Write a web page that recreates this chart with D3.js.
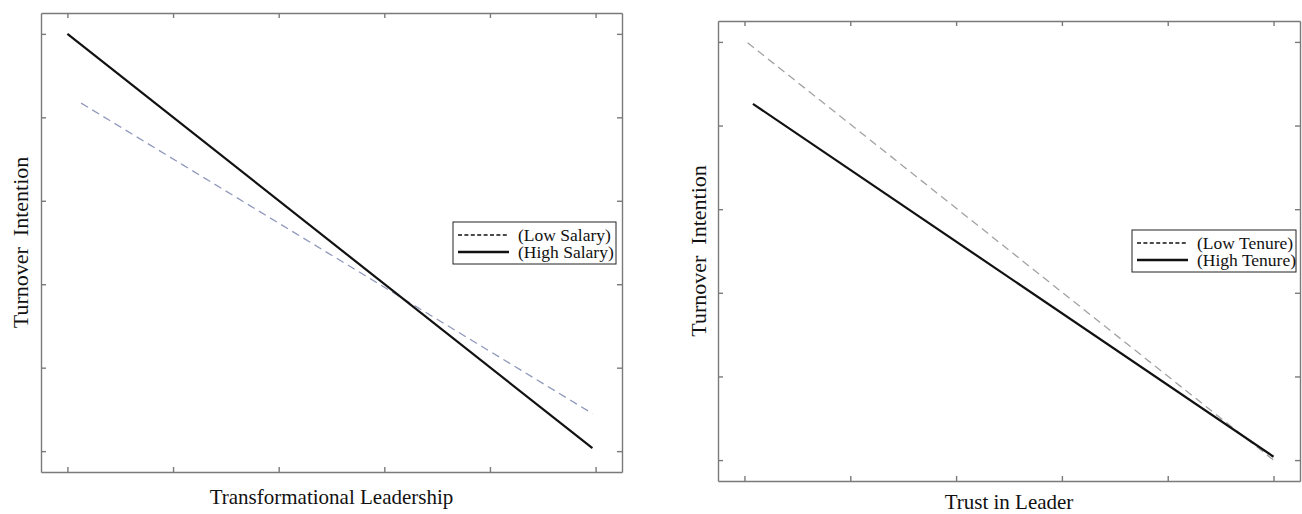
<!DOCTYPE html>
<html>
<head>
<meta charset="utf-8">
<script src="https://cdn.jsdelivr.net/npm/d3@7"></script>
<style>
  body { margin: 0; background: #fff; }
  svg { display: block; font-family: 'Liberation Serif', 'Times New Roman', serif; }
  .frame path, .frame line { stroke: #7a7a7a; stroke-width: 1.4; }
</style>
</head>
<body>
<svg id="chart" width="1302" height="514"></svg>
<script>
// axis ticks (unlabelled) and the plotted simple slopes
const tickValues = [0, 1, 2, 3, 4, 5];
const axisDomain = [-0.25, 5.25];

const salaryLowX = [0.13, 4.97];
const salaryLowY = [4.17, 0.45];
const salaryHighX = [0, 4.97];
const salaryHighY = [5.0, 0.035];

const tenureLowX = [0.03, 5];
const tenureLowY = [4.99, 0.0];
const tenureHighX = [0.08, 5];
const tenureHighY = [4.26, 0.04];

const panels = [
  {
    x0: 41, x1: 622, y0: 13, y1: 472,
    xLabel: 'Transformational Leadership', xLabelY: 504,
    yLabelX: 28,
    series: [
      { name: '(Low Salary)', xs: salaryLowX, ys: salaryLowY, dashed: true, color: '#9098bc' },
      { name: '(High Salary)', xs: salaryHighX, ys: salaryHighY, dashed: false, color: '#111' }
    ],
    legend: { x: 453, y: 222, w: 163, h: 42 }
  },
  {
    x0: 718, x1: 1300, y0: 21, y1: 481,
    xLabel: 'Trust in Leader', xLabelY: 509,
    yLabelX: 706,
    series: [
      { name: '(Low Tenure)', xs: tenureLowX, ys: tenureLowY, dashed: true, color: '#a2a2a2' },
      { name: '(High Tenure)', xs: tenureHighX, ys: tenureHighY, dashed: false, color: '#111' }
    ],
    legend: { x: 1132, y: 230, w: 164, h: 42 }
  }
];

const svg = d3.select('#chart');

panels.forEach(p => {
  const x = d3.scaleLinear().domain(axisDomain).range([p.x0, p.x1]);
  const y = d3.scaleLinear().domain(axisDomain).range([p.y1, p.y0]);
  const g = svg.append('g');

  // box frame with inward ticks on all four sides
  const blank = () => '';
  g.append('g').attr('class', 'frame').attr('transform', `translate(0,${p.y1})`)
    .call(d3.axisBottom(x).tickValues(tickValues).tickSize(-5).tickSizeOuter(0).tickFormat(blank));
  g.append('g').attr('class', 'frame').attr('transform', `translate(0,${p.y0})`)
    .call(d3.axisTop(x).tickValues(tickValues).tickSize(-5).tickSizeOuter(0).tickFormat(blank));
  g.append('g').attr('class', 'frame').attr('transform', `translate(${p.x0},0)`)
    .call(d3.axisLeft(y).tickValues(tickValues).tickSize(-5).tickSizeOuter(0).tickFormat(blank));
  g.append('g').attr('class', 'frame').attr('transform', `translate(${p.x1},0)`)
    .call(d3.axisRight(y).tickValues(tickValues).tickSize(-5).tickSizeOuter(0).tickFormat(blank));

  const line = d3.line().x(d => x(d[0])).y(d => y(d[1]));
  p.series.forEach(s => {
    g.append('path').datum(d3.zip(s.xs, s.ys)).attr('d', line).attr('fill', 'none')
      .attr('stroke', s.color).attr('stroke-width', s.dashed ? 1.3 : 2.2)
      .attr('stroke-dasharray', s.dashed ? '8,5' : null);
  });

  g.append('text').attr('x', (p.x0 + p.x1) / 2).attr('y', p.xLabelY).attr('text-anchor', 'middle')
    .attr('font-size', 21).attr('fill', '#111').text(p.xLabel);
  g.append('text').attr('transform', `translate(${p.yLabelX},${(p.y0 + p.y1) / 2}) rotate(-90)`)
    .attr('text-anchor', 'middle').attr('font-size', 22).attr('fill', '#111')
    .attr('xml:space', 'preserve').style('white-space', 'pre').text('Turnover  Intention');

  // legend
  const L = p.legend;
  const lg = g.append('g').attr('transform', `translate(${L.x},${L.y})`);
  lg.append('rect').attr('width', L.w).attr('height', L.h).attr('fill', '#fff').attr('stroke', '#222').attr('stroke-width', 1);
  p.series.forEach((s, i) => {
    const yy = 13 + i * 17;
    lg.append('line').attr('x1', 5).attr('x2', 56).attr('y1', yy).attr('y2', yy)
      .attr('stroke', '#111').attr('stroke-width', s.dashed ? 1.4 : 2.6)
      .attr('stroke-dasharray', s.dashed ? '4,2.4' : null);
    lg.append('text').attr('x', 65).attr('y', yy + 6).attr('font-size', 17.5).attr('fill', '#111').text(s.name);
  });
});
</script>
</body>
</html>
